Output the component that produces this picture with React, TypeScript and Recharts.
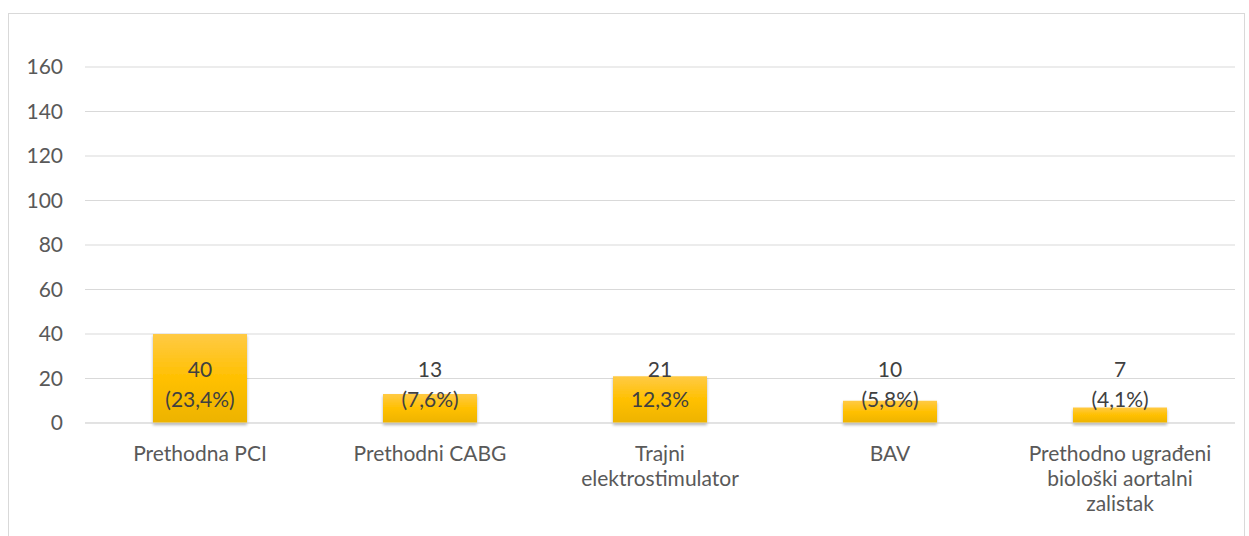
import { Bar, BarChart, CartesianGrid, LabelList, XAxis, YAxis } from "recharts";

const categories = [
	"Prethodna PCI",
	"Prethodni CABG",
	"Trajni\nelektrostimulator",
	"BAV",
	"Prethodno ugrađeni\nbiološki aortalni\nzalistak",
];
const counts = [40, 13, 21, 10, 7];
const percentLabels = ["(23,4%)", "(7,6%)", "12,3%", "(5,8%)", "(4,1%)"];
const yTicks = [0, 20, 40, 60, 80, 100, 120, 140, 160];

const data = categories.map((name, i) => ({
	name,
	count: counts[i],
	pct: percentLabels[i],
}));

const FONT = "Lato, sans-serif";
const ZERO_Y = 423;

function XTick({ x, y, payload }: any) {
	const lines = String(payload.value).split("\n");
	return (
		<text
			x={x}
			y={y}
			textAnchor="middle"
			fill="#595959"
			fontSize={21}
			fontFamily={FONT}
		>
			{lines.map((line, i) => (
				<tspan key={i} x={x} dy={i === 0 ? 30 : 25}>
					{line}
				</tspan>
			))}
		</text>
	);
}

function BarLabel(props: any) {
	const { x, width, index } = props;
	const cx = x + width / 2;
	// Excel puts every label block at the same height above the axis
	const first = ZERO_Y - 46;
	return (
		<text
			x={cx}
			y={first}
			textAnchor="middle"
			fill="#404040"
			fontSize={21}
			fontFamily={FONT}
		>
			<tspan x={cx} dy={0}>
				{counts[index]}
			</tspan>
			<tspan x={cx} dy={30}>
				{percentLabels[index]}
			</tspan>
		</text>
	);
}

export default function App() {
	return (
		<div
			style={{
				position: "absolute",
				left: 0,
				top: 0,
				width: 1249,
				height: 536,
				background: "#fff",
				overflow: "hidden",
			}}
		>
			<div
				style={{
					position: "absolute",
					left: 8,
					top: 13,
					width: 1237,
					height: 540,
					border: "1px solid #d9d9d9",
					boxSizing: "border-box",
				}}
			/>
			<BarChart
				width={1249}
				height={536}
				data={data}
				margin={{ top: 67, right: 14, left: 0, bottom: 33 }}
				style={{ position: "absolute", left: 0, top: 0 }}
			>
				<defs>
					<linearGradient id="gold" x1="0" y1="0" x2="0" y2="1">
						<stop offset="0%" stopColor="#FFCA45" />
						<stop offset="50%" stopColor="#FFC000" />
						<stop offset="100%" stopColor="#EDB300" />
					</linearGradient>
					<filter id="shadow" x="-10%" y="-10%" width="120%" height="130%">
						<feDropShadow dx="0" dy="2" stdDeviation="1.5" floodColor="#000" floodOpacity="0.3" />
					</filter>
				</defs>
				<CartesianGrid vertical={false} stroke="#d9d9d9" strokeWidth={1} />
				<XAxis
					dataKey="name"
					axisLine={{ stroke: "#d9d9d9" }}
					tickLine={false}
					tick={<XTick />}
					interval={0}
					height={80}
				/>
				<YAxis
					domain={[0, 160]}
					ticks={yTicks}
					axisLine={false}
					tickLine={false}
					width={85}
					tickMargin={16}
					tick={{ fill: "#595959", fontSize: 21, fontFamily: FONT }}
				/>
				<Bar
					dataKey="count"
					fill="url(#gold)"
					barSize={94}
					filter="url(#shadow)"
					isAnimationActive={false}
				>
					<LabelList dataKey="count" content={<BarLabel />} />
				</Bar>
			</BarChart>
		</div>
	);
}
